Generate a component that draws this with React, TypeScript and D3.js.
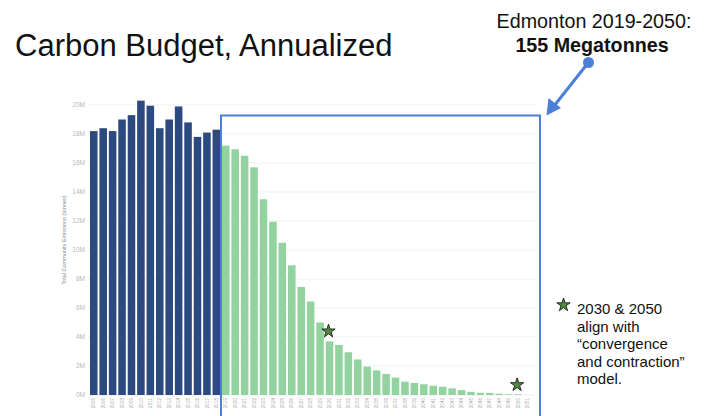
import React from 'react';
import * as d3 from 'd3';

// Historical emissions (Mt) 2005-2018
const histYears = [2005, 2006, 2007, 2008, 2009, 2010, 2011, 2012, 2013, 2014, 2015, 2016, 2017, 2018];
const histValues = [18.2, 18.4, 18.2, 19.0, 19.3, 20.3, 19.95, 18.4, 19.0, 19.9, 18.8, 17.8, 18.1, 18.3];

// Budget pathway (Mt) 2019-2050
const budgetYears = [
  2019, 2020, 2021, 2022, 2023, 2024, 2025, 2026, 2027, 2028, 2029, 2030, 2031, 2032, 2033, 2034,
  2035, 2036, 2037, 2038, 2039, 2040, 2041, 2042, 2043, 2044, 2045, 2046, 2047, 2048, 2049, 2050,
];
const budgetValues = [
  17.2, 16.95, 16.5, 15.7, 13.5, 11.95, 10.5, 8.95, 7.45, 6.45, 5.0, 3.7, 3.45, 2.95, 2.45, 1.95,
  1.7, 1.45, 1.2, 0.92, 0.83, 0.74, 0.64, 0.57, 0.46, 0.34, 0.22, 0.15, 0.14, 0.09, 0.05, 0.05,
];

// axis runs one year past the budget
const axisYears = [...histYears, ...budgetYears, 2051];
const yTicks = [0, 2, 4, 6, 8, 10, 12, 14, 16, 18, 20];

// convergence & contraction markers
const starYears = [2030, 2050];
const starValues = [4.4, 0.7];

const noteLines = ['2030 & 2050', 'align with', '\u201Cconvergence', 'and contraction\u201D', 'model.'];

const W = 709;
const H = 416;
const font = '"Liberation Sans", Arial, sans-serif';
const navy = '#2c4a80';
const green = '#93d3a0';
const frameBlue = '#4b7fd8';

export default function App() {
  const x = d3.scaleBand<number>()
    .domain(axisYears)
    .range([88.1, 533.2])
    .paddingInner(0.2)
    .paddingOuter(0.2);
  const y = d3.scaleLinear().domain([0, 20]).range([395, 105]);

  const star = d3.symbol().type(d3.symbolStar).size(55)();

  return (
    <svg width={W} height={H} style={{ position: 'absolute', left: 0, top: 0, display: 'block', background: '#fff' }}
      fontFamily={font}>
      {/* gridlines */}
      {yTicks.map((t) => (
        <line key={'g' + t} x1={88} x2={536} y1={y(t)} y2={y(t)} stroke="#efefef" strokeWidth={1} />
      ))}
      {yTicks.map((t) => (
        <text key={'t' + t} x={85} y={y(t)} dy="0.35em" textAnchor="end" fontSize={6.5} fill="#b8b8b8">
          {t}M
        </text>
      ))}
      <text transform={`translate(66,240) rotate(-90)`} textAnchor="middle" fontSize={5.5} fill="#8a8a8a">
        Total Community Emissions (tonnes)
      </text>

      {/* bars */}
      {histYears.map((yr, i) => (
        <rect key={'h' + yr} x={x(yr)} y={y(histValues[i])} width={x.bandwidth()}
          height={y(0) - y(histValues[i])} fill={navy} />
      ))}
      {budgetYears.map((yr, i) => (
        <rect key={'b' + yr} x={x(yr)} y={y(budgetValues[i])} width={x.bandwidth()}
          height={y(0) - y(budgetValues[i])} fill={green} />
      ))}

      {/* year labels */}
      {axisYears.map((yr) => (
        <text key={'x' + yr} transform={`translate(${(x(yr) as number) + x.bandwidth() / 2},398) rotate(-90)`}
          textAnchor="end" dy="0.35em" fontSize={4.6} fill="#aaaaaa">
          {yr}
        </text>
      ))}

      {/* stars */}
      {starYears.map((yr, i) => (
        <path key={'s' + yr} d={star as string}
          transform={`translate(${(x(yr) as number) + x.bandwidth() / 2 - 1},${y(starValues[i])})`}
          fill="#4f8a3c" stroke="#1a1a1a" strokeWidth={0.9} />
      ))}

      {/* budget frame */}
      <rect x={221} y={115.5} width={319} height={320} fill="none" stroke={frameBlue} strokeWidth={2} />

      {/* title */}
      <text x={15} y={56} fontSize={31} fill="#111">Carbon Budget, Annualized</text>

      {/* callout */}
      <text x={594} y={27.5} textAnchor="middle" fontSize={19.7} fill="#111">Edmonton 2019-2050:</text>
      <text x={592} y={51.5} textAnchor="middle" fontSize={19.7} fontWeight="bold" fill="#111">155 Megatonnes</text>
      <line x1={588} y1={63} x2={554} y2={106} stroke={frameBlue} strokeWidth={3} />
      <path d="M546.5,115.5 L548.5,98 L561,108 Z" fill={frameBlue} />
      <circle cx={588.5} cy={62.5} r={5.5} fill={frameBlue} />

      {/* note */}
      <path d={star as string} transform="translate(563.5,305)" fill="#4f8a3c" stroke="#1a1a1a" strokeWidth={0.9} />
      {noteLines.map((l, i) => (
        <text key={'n' + i} x={577} y={314 + i * 17.5} fontSize={15} fill="#111">{l}</text>
      ))}
    </svg>
  );
}
